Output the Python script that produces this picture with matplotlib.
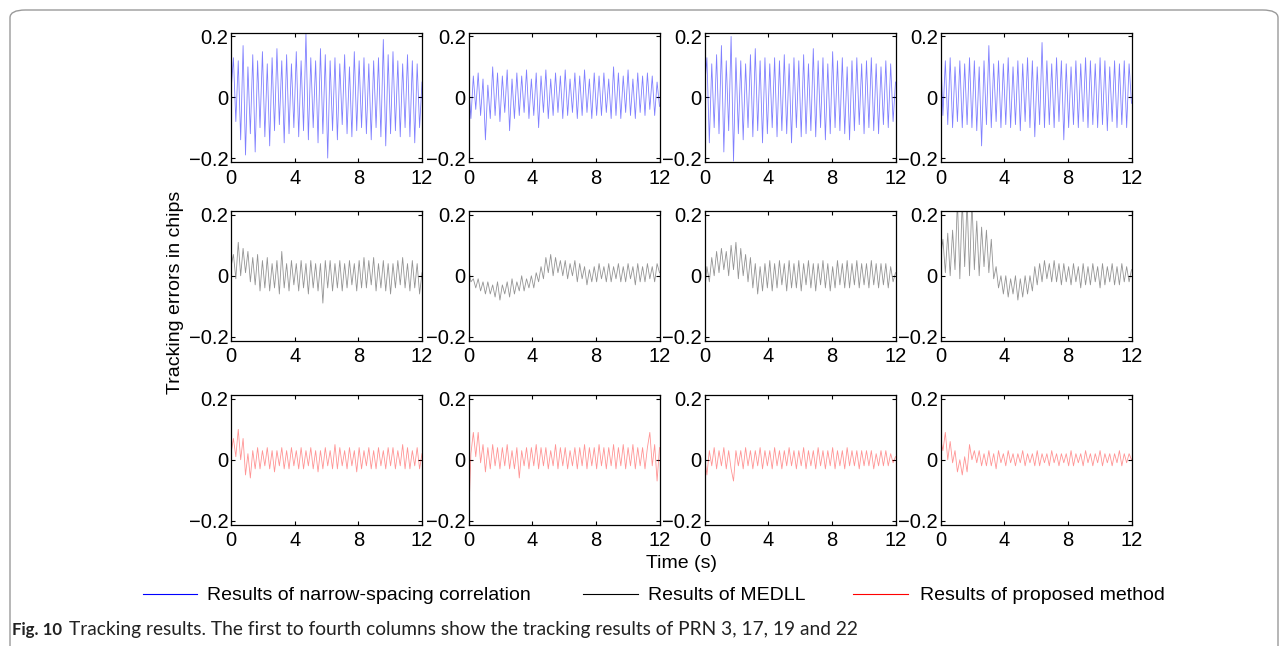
import numpy as np
import matplotlib
matplotlib.use("Agg")
import matplotlib.pyplot as plt
from matplotlib.patches import FancyBboxPatch
from matplotlib.lines import Line2D

# ---------------- data (tracking errors in chips) ----------------
duration = 12.0
xticks = [0, 4, 8, 12]
yticks = [-0.2, 0, 0.2]
ytick_labels = ["\u22120.2", "0", "0.2"]
prn_columns = ["PRN 3", "PRN 17", "PRN 19", "PRN 22"]
series_names = ["Results of narrow-spacing correlation", "Results of MEDLL",
                "Results of proposed method"]
series_colors = ["#0000ff", "#000000", "#ff0000"]

# narrow-spacing correlation
narrow_prn3 = [0.02, 0.13, -0.08, 0.12, -0.14, 0.17, -0.19, 0.10, -0.12, 0.14, -0.18, 0.12, -0.10, 0.15, -0.13, 0.11,
               -0.16, 0.13, -0.11, 0.16, -0.09, 0.12, -0.15, 0.14, -0.12, 0.11, -0.10, 0.15, -0.13, 0.12, -0.11, 0.21,
               -0.14, 0.13, -0.10, 0.12, -0.15, 0.16, -0.12, 0.14, -0.20, 0.12, -0.11, 0.13, -0.14, 0.11, -0.09, 0.14,
               -0.12, 0.10, -0.13, 0.15, -0.11, 0.12, -0.10, 0.13, -0.12, 0.11, -0.14, 0.12, -0.10, 0.13, -0.13, 0.19,
               -0.16, 0.14, -0.12, 0.15, -0.11, 0.12, -0.13, 0.11, -0.10, 0.14, -0.13, 0.12, -0.15, 0.11, -0.10, 0.05]
narrow_prn17 = [0.05, -0.07, 0.07, -0.04, 0.08, -0.06, 0.06, -0.14, 0.04, -0.07, 0.10, -0.06, 0.08, -0.08, 0.07, -0.05,
                0.09, -0.11, 0.06, -0.07, 0.08, -0.06, 0.07, -0.05, 0.09, -0.07, 0.06, -0.06, 0.08, -0.10, 0.07, -0.05,
                0.09, -0.07, 0.06, -0.06, 0.08, -0.05, 0.07, -0.07, 0.09, -0.06, 0.06, -0.05, 0.08, -0.07, 0.07, -0.06,
                0.09, -0.05, 0.06, -0.07, 0.08, -0.06, 0.07, -0.06, 0.08, -0.05, 0.06, -0.07, 0.10, -0.06, 0.08, -0.07,
                0.07, -0.05, 0.09, -0.06, 0.06, -0.07, 0.08, -0.05, 0.07, -0.06, 0.08, -0.04, 0.07, -0.06, 0.05, -0.03]
narrow_prn19 = [0.03, 0.13, -0.15, 0.11, -0.10, 0.14, -0.12, 0.17, -0.18, 0.12, -0.11, 0.20, -0.21, 0.13, -0.12, 0.12,
                -0.14, 0.11, -0.10, 0.14, -0.13, 0.16, -0.11, 0.12, -0.15, 0.13, -0.12, 0.11, -0.10, 0.13, -0.13, 0.12,
                -0.11, 0.14, -0.12, 0.11, -0.15, 0.13, -0.10, 0.12, -0.13, 0.14, -0.12, 0.11, -0.11, 0.16, -0.13, 0.12,
                -0.10, 0.13, -0.14, 0.11, -0.12, 0.15, -0.10, 0.12, -0.11, 0.13, -0.12, 0.10, -0.14, 0.12, -0.11, 0.13,
                -0.09, 0.11, -0.12, 0.12, -0.10, 0.13, -0.11, 0.11, -0.12, 0.10, -0.09, 0.12, -0.10, 0.11, -0.08, 0.05]
narrow_prn22 = [0.17, -0.06, 0.12, -0.09, 0.13, -0.10, 0.10, -0.08, 0.12, -0.10, 0.11, -0.09, 0.13, -0.10, 0.12, -0.11,
                0.10, -0.16, 0.12, -0.09, 0.17, -0.10, 0.11, -0.08, 0.12, -0.10, 0.11, -0.09, 0.13, -0.10, 0.10, -0.09,
                0.12, -0.11, 0.11, -0.08, 0.13, -0.10, 0.12, -0.13, 0.10, -0.09, 0.18, -0.10, 0.12, -0.09, 0.11, -0.10,
                0.13, -0.08, 0.12, -0.14, 0.11, -0.10, 0.10, -0.09, 0.12, -0.10, 0.11, -0.08, 0.13, -0.10, 0.12, -0.09,
                0.11, -0.10, 0.13, -0.09, 0.12, -0.11, 0.10, -0.08, 0.12, -0.10, 0.11, -0.09, 0.12, -0.10, 0.11, -0.02]

# MEDLL
medll_prn3 = [0.03, 0.07, -0.01, 0.11, 0.00, 0.09, 0.01, 0.08, -0.02, 0.06, -0.03, 0.07, -0.05, 0.05, -0.04, 0.06,
              -0.05, 0.04, -0.04, 0.05, -0.06, 0.08, -0.04, 0.04, -0.05, 0.05, -0.03, 0.04, -0.05, 0.05, -0.04, 0.04,
              -0.06, 0.05, -0.04, 0.04, -0.05, 0.04, -0.09, 0.05, -0.04, 0.05, -0.05, 0.04, -0.04, 0.05, -0.05, 0.04,
              -0.04, 0.05, -0.03, 0.04, -0.05, 0.05, -0.04, 0.06, -0.04, 0.05, -0.03, 0.06, -0.05, 0.04, -0.04, 0.05,
              -0.05, 0.04, -0.06, 0.04, -0.04, 0.05, -0.03, 0.06, -0.04, 0.04, -0.05, 0.05, -0.04, 0.04, -0.06, 0.01]
medll_prn17 = [0.03, -0.02, -0.01, -0.04, -0.01, -0.05, -0.02, -0.06, -0.02, -0.06, -0.03, -0.07, -0.02, -0.08, -0.03,
               -0.06, -0.02, -0.07, -0.01, -0.06, -0.02, -0.05, 0.00, -0.05, -0.01, -0.04, 0.00, -0.04, 0.01, -0.02,
               0.03, -0.01, 0.06, 0.01, 0.07, 0.00, 0.06, 0.01, 0.05, 0.00, 0.05, -0.01, 0.04, 0.00, 0.05, -0.02, 0.04,
               -0.01, 0.03, -0.03, 0.02, -0.02, 0.03, -0.02, 0.04, -0.01, 0.03, -0.02, 0.04, -0.02, 0.03, -0.01, 0.04,
               -0.02, 0.03, -0.02, 0.04, -0.01, 0.03, -0.03, 0.04, -0.02, 0.03, -0.02, 0.04, -0.01, 0.03, -0.02, 0.04,
               0.01]
medll_prn19 = [-0.06, 0.03, -0.02, 0.06, 0.00, 0.08, 0.01, 0.09, 0.02, 0.08, 0.00, 0.10, 0.02, 0.11, -0.01, 0.09,
               0.00, 0.07, -0.02, 0.06, -0.04, 0.04, -0.06, 0.03, -0.05, 0.04, -0.04, 0.05, -0.05, 0.04, -0.04, 0.05,
               -0.03, 0.04, -0.05, 0.05, -0.04, 0.04, -0.04, 0.05, -0.05, 0.04, -0.03, 0.05, -0.04, 0.04, -0.05, 0.04,
               -0.03, 0.05, -0.04, 0.04, -0.05, 0.03, -0.04, 0.05, -0.03, 0.04, -0.04, 0.05, -0.04, 0.04, -0.03, 0.05,
               -0.04, 0.04, -0.03, 0.04, -0.04, 0.05, -0.03, 0.04, -0.04, 0.04, -0.03, 0.04, -0.04, 0.03, -0.02, 0.01]
medll_prn22 = [0.06, 0.12, 0.01, 0.14, 0.00, 0.15, 0.02, 0.25, -0.01, 0.25, 0.03, 0.25, 0.00, 0.25, 0.02, 0.18,
               0.00, 0.16, 0.03, 0.15, 0.01, 0.12, -0.01, 0.03, -0.04, 0.00, -0.06, 0.00, -0.07, -0.01, -0.06, 0.00,
               -0.08, -0.01, -0.07, 0.00, -0.06, 0.00, -0.05, 0.03, -0.03, 0.04, -0.02, 0.05, -0.01, 0.04, -0.02, 0.05,
               -0.02, 0.04, -0.03, 0.04, -0.02, 0.03, -0.03, 0.04, -0.02, 0.03, -0.04, 0.04, -0.03, 0.03, -0.03, 0.04,
               -0.02, 0.03, -0.04, 0.04, -0.03, 0.03, -0.02, 0.04, -0.03, 0.03, -0.03, 0.04, -0.02, 0.03, -0.02, 0.02]

# proposed method
proposed_prn3 = [0.02, 0.07, 0.01, 0.10, 0.00, 0.07, -0.05, 0.02, -0.06, 0.03, -0.03, 0.04, -0.03, 0.03, -0.02, 0.04,
                 -0.03, 0.03, -0.04, 0.03, -0.02, 0.04, -0.03, 0.03, -0.03, 0.04, -0.02, 0.03, -0.03, 0.04, -0.03, 0.03,
                 -0.02, 0.04, -0.03, 0.03, -0.04, 0.03, -0.03, 0.04, -0.02, 0.03, -0.03, 0.05, -0.03, 0.04, -0.02, 0.03,
                 -0.03, 0.04, -0.02, 0.03, -0.04, 0.04, -0.03, 0.03, -0.02, 0.04, -0.03, 0.03, -0.03, 0.04, -0.02, 0.03,
                 -0.03, 0.04, -0.02, 0.04, -0.03, 0.03, -0.02, 0.05, -0.03, 0.04, -0.03, 0.03, -0.02, 0.04, -0.03, 0.02]
proposed_prn17 = [-0.21, 0.02, 0.09, 0.01, 0.09, -0.01, 0.05, -0.04, 0.04, -0.03, 0.05, -0.02, 0.04, -0.03, 0.04, -0.02,
                  0.05, -0.03, 0.03, -0.03, 0.04, -0.06, 0.03, -0.02, 0.04, -0.03, 0.04, -0.02, 0.05, -0.03, 0.04, -0.02,
                  0.04, -0.03, 0.03, -0.02, 0.05, -0.03, 0.04, -0.02, 0.04, -0.03, 0.03, -0.02, 0.04, -0.03, 0.04, -0.02,
                  0.05, -0.03, 0.04, -0.02, 0.04, -0.03, 0.05, -0.02, 0.04, -0.03, 0.04, -0.02, 0.05, -0.03, 0.04, -0.02,
                  0.05, -0.03, 0.04, -0.02, 0.05, -0.03, 0.04, -0.02, 0.04, -0.03, 0.04, 0.09, -0.02, 0.05, -0.07, 0.04]
proposed_prn19 = [0.01, -0.05, 0.03, -0.02, 0.04, -0.03, 0.03, -0.02, 0.04, -0.03, 0.03, -0.03, -0.07, 0.03, -0.02, 0.03,
                  -0.03, 0.04, -0.02, 0.03, -0.03, 0.03, -0.02, 0.04, -0.03, 0.03, -0.02, 0.03, -0.03, 0.04, -0.02, 0.03,
                  -0.03, 0.03, -0.02, 0.04, -0.02, 0.03, -0.03, 0.03, -0.02, 0.04, -0.03, 0.03, -0.02, 0.03, -0.03, 0.04,
                  -0.02, 0.03, -0.03, 0.03, -0.02, 0.04, -0.03, 0.03, -0.02, 0.03, -0.03, 0.04, -0.02, 0.03, -0.02, 0.03,
                  -0.03, 0.03, -0.02, 0.03, -0.02, 0.03, -0.03, 0.02, -0.02, 0.03, -0.02, 0.03, -0.02, 0.02, -0.01, 0.01]
proposed_prn22 = [0.07, 0.03, 0.09, 0.00, 0.06, -0.01, 0.03, -0.04, 0.00, -0.05, 0.01, -0.04, 0.05, 0.00, 0.03, -0.01,
                  0.03, -0.02, 0.02, -0.02, 0.03, -0.02, 0.02, -0.03, 0.03, -0.01, 0.02, -0.02, 0.03, -0.01, 0.02, -0.02,
                  0.02, -0.01, 0.03, -0.02, 0.02, -0.01, 0.02, -0.02, 0.03, -0.02, 0.02, -0.01, 0.02, -0.02, 0.03, -0.01,
                  0.02, -0.02, 0.02, -0.01, 0.02, -0.02, 0.03, -0.02, 0.02, -0.01, 0.02, -0.02, 0.03, -0.01, 0.02, -0.02,
                  0.02, -0.01, 0.03, -0.02, 0.02, -0.01, 0.02, -0.02, 0.02, -0.01, 0.03, -0.02, 0.02, -0.01, 0.02, 0.00]

rows = [
    [narrow_prn3, narrow_prn17, narrow_prn19, narrow_prn22],
    [medll_prn3, medll_prn17, medll_prn19, medll_prn22],
    [proposed_prn3, proposed_prn17, proposed_prn19, proposed_prn22],
]

# ---------------- figure ----------------
W, H = 1287, 646
fig = plt.figure(figsize=(W / 100, H / 100), dpi=100)
fig.patch.set_facecolor("white")
plt.rcParams["font.family"] = ["Liberation Sans", "DejaVu Sans"]

def fx(px):
    return px / W

def fy(py):
    return 1 - py / H

# outer rounded frame
frame = FancyBboxPatch((fx(10), fy(700)), fx(1278) - fx(10), fy(10) - fy(700),
                       boxstyle="round,pad=0,rounding_size=0.012", transform=fig.transFigure,
                       facecolor="none", edgecolor="#9a9a9a", linewidth=1.0)
fig.patches.append(frame)

col_left = [231, 468.5, 704.5, 940.5]
row_top = [32.5, 211, 395]
ax_w, ax_h = 191, 129.5
line_alpha = [0.5, 0.42, 0.42]

for r in range(3):
    for c in range(4):
        ax = fig.add_axes([fx(col_left[c]), fy(row_top[r] + ax_h), ax_w / W, ax_h / H])
        vals = np.array(rows[r][c])
        t = np.linspace(0, duration, len(vals))
        ax.plot(t, vals, color=series_colors[r], lw=0.6, alpha=line_alpha[r])
        ax.set_xlim(0, duration)
        ax.set_ylim(-0.213, 0.213)
        ax.set_xticks(xticks)
        ax.set_xticklabels([str(v) for v in xticks])
        ax.set_yticks(yticks)
        ax.set_yticklabels(ytick_labels)
        ax.tick_params(direction="in", length=3, width=0.8, top=True, right=True,
                       labelsize=14.5, colors="black")
        ax.tick_params(axis="x", pad=5)
        ax.tick_params(axis="y", pad=2)
        for s in ax.spines.values():
            s.set_linewidth(0.9)

# shared axis labels
fig.text(fx(681), fy(564), "Time (s)", ha="center", va="center", fontsize=14)
fig.text(fx(175), fy(292), "Tracking errors in chips", ha="center", va="center",
         rotation=90, fontsize=14)

# legend row
leg_entries = [(143, 197, 207), (583, 638, 648), (853, 908, 920)]
for (x0, x1, xt), name, col in zip(leg_entries, series_names, series_colors):
    fig.lines.append(Line2D([fx(x0), fx(x1)], [fy(594), fy(594)], transform=fig.transFigure,
                            color=col, lw=0.8))
    fig.text(fx(xt), fy(596), name, ha="left", va="center", fontsize=14)

# caption
fig.text(fx(12), fy(630), "Fig. 10", ha="left", va="center", fontsize=12.2,
         fontweight="bold", family=["Lato", "DejaVu Sans"], color="#222222")
fig.text(fx(69), fy(630),
         "Tracking results. The first to fourth columns show the tracking results of PRN 3, 17, 19 and 22",
         ha="left", va="center", fontsize=13.8, family=["Lato", "DejaVu Sans"], color="#222222")

fig.savefig("out.png", dpi=100, facecolor="white")
